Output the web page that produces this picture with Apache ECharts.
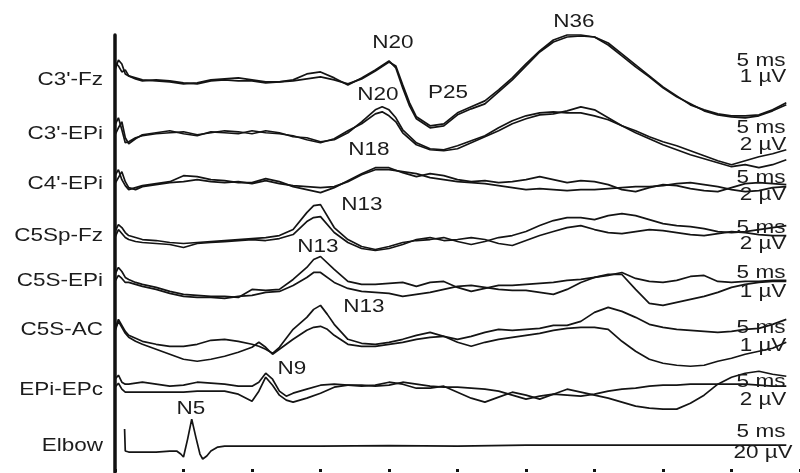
<!DOCTYPE html>
<html><head><meta charset="utf-8">
<script src="https://cdn.jsdelivr.net/npm/echarts@6/dist/echarts.min.js"></script>
<style>html,body{margin:0;padding:0;background:#fff}#c{width:800px;height:473px}</style>
</head><body><div id="c"></div>
<script>
// ---- channel names and scale notes ----
const channelNames = ["C3'-Fz","C3'-EPi","C4'-EPi","C5Sp-Fz","C5S-EPi","C5S-AC","EPi-EPc","Elbow"];
const scaleTime = ['5 ms','5 ms','5 ms','5 ms','5 ms','5 ms','5 ms','5 ms'];
const scaleAmp = ['1 µV','2 µV','2 µV','2 µV','1 µV','1 µV','2 µV','20 µV'];
const peakNames = ['N20','N20','P25','N36','N18','N13','N13','N13','N9','N5'];

// ---- time samples (ms) per channel ----
const tC3Fz = [0,0.25,0.5,0.75,1,1.5,2,3,4,5,6,7,8,9,10,11,12,13,14,15,16,17,18,19,20,20.5,21,21.5,22,23,24,25,26,27,28,29,30,31,32,33,34,35,36,37,38,39,40,41,42,43,44,45,46,47,48,49];
const tC3EPi = [0,0.25,0.5,0.75,1,1.5,2,3,4,5,6,7,8,9,10,11,12,13,14,15,16,17,18,19,19.5,20,20.5,21,22,23,24,25,26,27,28,29,30,31,32,33,34,35,36,37,38,39,40,41,42,43,44,45,46,47,48,49];
const tC4EPi = [0,0.25,0.5,0.75,1,1.5,2,3,4,5,6,7,8,9,10,11,12,13,14,15,16,17,18,19,20,21,22,23,24,25,26,27,28,29,30,31,32,33,34,35,36,37,38,39,40,41,42,43,44,45,46,47,48,49];
const tC5SpFz = [0,0.25,0.5,0.75,1,1.5,2,3,4,5,6,7,8,9,10,11,12,13,14,14.5,15,16,17,18,19,20,21,22,23,24,25,26,27,28,29,30,31,32,33,34,35,36,37,38,39,40,41,42,43,44,45,46,47,48,49];
const tC5SEPi = [0,0.25,0.5,0.75,1,1.5,2,3,4,5,6,7,8,9,10,11,12,13,14,14.5,15,16,17,18,19,20,21,22,23,24,25,26,27,28,29,30,31,32,33,34,35,36,37,38,39,40,41,42,43,44,45,46,47,48,49];
const tC5SAC = [0,0.25,0.5,0.75,1,1.5,2,3,4,5,6,7,8,9,10,10.5,11,11.5,12,13,14,14.5,15,15.5,16,17,18,19,20,21,22,23,24,25,26,27,28,29,30,31,32,33,34,35,36,37,38,39,40,41,42,43,44,45,46,47,48,49];
const tEPiEPc = [0,0.25,0.5,0.75,1,2,3,4,5,6,7,8,9,10,10.5,11,11.5,12,12.5,13,14,15,16,17,18,19,20,21,22,23,24,25,26,27,28,29,30,31,32,33,34,35,36,37,38,39,40,41,42,43,44,45,46,47,48,49];
const tElbow = [0.7,0.75,1,2,3,4,4.5,4.8,5.0,5.3,5.6,5.9,6.2,6.4,6.7,7,7.5,8,10,15,20,25,30,35,40,45,49];

// ---- deflections (display units, upward = negative polarity), two runs per channel ----
const c3FzA = [18,14,8,10,4,1,-1,0,-1,-3,-4,-1,0,-1,-1,-3,-2,0,6,8,2,-5,2,10,19,12,-8,-26,-39,-48,-46,-35,-29,-24,-12,0,14,28,38,43,44,43,35,24,13,3,-8,-17,-24,-31,-35,-37,-38,-36,-31,-25];
const c3FzB = [10,20,16,6,4,2,0,-1,-2,-4,-3,0,1,2,0,-2,-2,-1,1,3,0,-4,1,9,18,14,-5,-23,-37,-46,-44,-33,-27,-21,-10,2,16,29,40,45,45,43,37,26,15,4,-7,-16,-25,-30,-34,-36,-36,-35,-30,-23];
const c3EPiA = [10,17,5,-8,-7,-3,-1,1,2,3,0,2,4,3,1,4,2,-2,-3,-7,-5,2,13,25,28,25,17,5,-8,-14,-15,-11,-6,-1,7,14,19,22,23,22,22,19,15,9,4,-2,-7,-11,-16,-21,-26,-30,-26,-22,-19,-15];
const c3EPiB = [0,7,13,-3,-9,-4,0,2,4,1,-1,3,2,1,4,2,1,-1,-5,-8,-4,4,11,21,23,19,13,2,-10,-15,-16,-14,-8,-2,4,11,16,20,21,24,28,25,17,9,2,-4,-10,-15,-20,-24,-28,-32,-30,-33,-30,-25];
const c4EPiA = [8,14,4,-2,-6,-4,-2,0,2,8,7,4,3,1,1,5,2,-3,-6,-9,-4,3,10,16,16,11,7,10,8,4,2,3,1,2,4,7,4,1,3,2,-1,-6,-8,-4,-1,-2,-5,-7,-8,-4,0,1,0,-1];
const c4EPiB = [0,6,12,2,-4,-6,-3,-1,1,2,4,2,1,2,0,3,0,-2,-3,-4,-3,2,9,14,14,12,10,6,4,2,1,0,-2,-4,-6,-5,-6,-7,-6,-6,-5,-4,-3,-3,-2,0,1,-1,-3,-6,-8,-7,-4,-3];
const c5SpFzA = [8,15,12,7,4,2,0,-1,-3,-4,-3,-2,-1,0,1,2,4,10,27,34,35,12,0,-7,-10,-7,-3,-1,0,2,-2,-5,-2,2,4,8,14,19,22,22,20,24,26,24,20,16,14,13,11,8,7,8,10,12,14];
const c5SpFzB = [2,10,6,2,0,-2,-3,-4,-5,-8,-4,-3,-2,-1,0,-1,1,5,18,22,23,7,-3,-9,-11,-9,-5,0,2,-1,0,2,0,-4,-6,-1,4,8,12,14,10,7,6,8,10,9,7,5,4,6,8,7,5,4,4];
const c5SEPiA = [15,22,18,12,10,7,5,2,-2,-5,-6,-7,-7,-8,0,-1,0,10,22,30,33,20,8,5,5,6,7,3,7,8,2,-2,1,4,4,5,6,7,9,10,12,14,17,11,8,7,9,13,14,8,7,8,8,9,9];
const c5SEPiB = [8,14,11,7,7,5,3,0,-4,-7,-8,-8,-9,-7,-6,-3,-2,4,12,17,17,7,1,-2,-3,-4,-7,-5,-3,0,3,4,2,0,-1,-1,-3,-5,0,7,12,15,15,0,-14,-16,-13,-10,-7,-3,2,5,7,8,8];
const c5SACA = [10,20,14,8,4,1,-2,-5,-7,-7,-5,-1,0,-2,-5,-7,-10,-14,-8,10,22,30,34,25,15,0,-4,-5,-3,0,4,7,3,0,3,7,10,9,10,11,14,14,18,27,32,28,22,15,12,10,9,8,7,8,10,11,15,20];
const c5SACB = [8,18,12,6,2,-2,-5,-10,-15,-20,-22,-20,-17,-13,-8,-3,-8,-15,-10,0,9,12,13,10,4,-5,-7,-7,-5,-3,0,2,3,-3,-7,-3,0,2,4,6,9,11,12,12,10,-2,-12,-20,-24,-26,-27,-26,-22,-19,-15,-12,-9,-3];
const cEPiA = [10,14,7,5,5,7,5,3,4,7,6,5,3,3,7,16,10,-2,-7,-4,0,4,5,4,3,4,7,5,1,1,3,-3,-9,-13,-8,-3,-6,-10,-5,0,-3,-6,-9,-13,-17,-19,-20,-20,-14,-6,5,12,16,18,15,13];
const cEPiB = [2,6,0,-3,-3,-3,-3,-3,-3,-2,-2,-2,-5,-12,-2,12,4,-6,-11,-13,-9,-4,2,4,4,3,4,7,5,3,2,2,1,0,-2,-6,-10,-7,-5,-6,-7,-5,-2,0,1,3,4,4,5,5,5,5,5,4,3,3];
const cElbow = [22,0,-1,-1,-1,0,0,-3,-6,12,32,14,-3,-8,-5,0,4,5,5,5,5.5,5,6,6,6,6,6];

// ---- stacking of channels on the shared vertical axis ----
const rowOffset = [393,338,289,233,183,133,83,21];

const traces = [
  [tC3Fz, [c3FzA, c3FzB]],
  [tC3EPi, [c3EPiA, c3EPiB]],
  [tC4EPi, [c4EPiA, c4EPiB]],
  [tC5SpFz, [c5SpFzA, c5SpFzB]],
  [tC5SEPi, [c5SEPiA, c5SEPiB]],
  [tC5SAC, [c5SACA, c5SACB]],
  [tEPiEPc, [cEPiA, cEPiB]],
  [tElbow, [cElbow]]
];

const series = [];
traces.forEach(function (tr, k) {
  const t = tr[0];
  tr[1].forEach(function (vals, r) {
    if (vals.length !== t.length) console.error('length mismatch', channelNames[k], r, vals.length, t.length);
    series.push({
      type: 'line', name: channelNames[k] + ' ' + (r + 1),
      data: t.map(function (tm, i) { return [tm, rowOffset[k] + vals[i]]; }),
      showSymbol: false, symbol: 'none', smooth: false, clip: false,
      lineStyle: { color: '#141414', width: 1.7 }, z: 3, silent: true
    });
  });
});

const FONT = '"Liberation Sans", Arial, Helvetica, sans-serif';
const SX = 1.25;
function txt(s, x, y, align) {
  return { type: 'text', x: x, y: y, scaleX: SX, silent: true, z: 10,
    style: { text: s, align: align, verticalAlign: 'middle', fontSize: 18, fontFamily: FONT, fill: '#1c1c1c' } };
}
const leftLabelY = [80,134,184,236,281,330,390,446];
const rightLabelY = [[61,77],[128,145],[178,195],[228,244],[273,292],[328,346],[382,400],[432,453]];
const peakPos = [[393,43],[378,95],[448,93],[574,22],[369,150],[362,205],[318,247],[364,307],[292,369],[191,409]];
const graphics = [];
channelNames.forEach(function (n, k) { graphics.push(txt(n, 103, leftLabelY[k], 'right')); });
scaleTime.forEach(function (s, k) {
  graphics.push(txt(s, 761, rightLabelY[k][0], 'center'));
  graphics.push(txt(scaleAmp[k], 763, rightLabelY[k][1], 'center'));
});
peakNames.forEach(function (n, k) { graphics.push(txt(n, peakPos[k][0], peakPos[k][1], 'center')); });

const chart = echarts.init(document.getElementById('c'), null, { renderer: 'canvas' });
chart.setOption({
  animation: false,
  backgroundColor: '#ffffff',
  grid: { left: 115, right: -12, top: 35, bottom: 1, containLabel: false },
  xAxis: {
    type: 'value', min: 0, max: 50, interval: 5,
    axisLine: { show: false },
    axisTick: { show: true, inside: true, length: 3, lineStyle: { color: '#111', width: 3 } },
    axisLabel: { show: false }, splitLine: { show: false }
  },
  yAxis: {
    type: 'value', min: 0, max: 438,
    axisLine: { show: true, onZero: false, lineStyle: { color: '#111', width: 3.5 } },
    axisTick: { show: false }, axisLabel: { show: false }, splitLine: { show: false }
  },
  series: series,
  graphic: graphics
});
</script>
</body></html>
